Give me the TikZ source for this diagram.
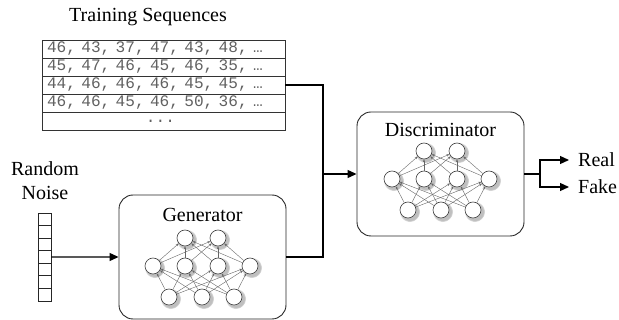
\documentclass[tikz,border=0pt]{standalone}
\usepackage{fontspec}
\setmainfont{Liberation Serif}
\setmonofont{Liberation Mono}
\newfontfamily\rowfont{Liberation Mono}
\usetikzlibrary{arrows.meta,shadows}
\begin{document}
\begin{tikzpicture}[x=1pt,y=-1pt,
  lbl/.style={font=\fontsize{20}{24}\selectfont, inner sep=0pt},
  rowbox/.style={draw=black!80, line width=0.8pt, minimum width=243pt, minimum height=18pt,
    text width=233pt, inner xsep=5pt, inner ysep=0pt, align=left,
    font=\rowfont\fontsize{16.1}{18}\selectfont, text=black!62},
  cell/.style={draw=black!85, line width=0.8pt, minimum width=13pt, minimum height=12.57pt, inner sep=0pt},
  block/.style={draw=black!85, line width=0.9pt, rounded corners=14pt, minimum width=167pt, minimum height=124pt},
  conn/.style={line width=1.2pt, black},
  arr/.style={conn, -{Triangle[length=9pt,width=8pt]}},
  neuron/.style={circle, draw=black!75, line width=0.6pt, fill=white, minimum size=16pt, inner sep=0pt,
    circular drop shadow={shadow scale=1.3, shadow xshift=1.3pt, shadow yshift=-1.3pt, opacity=0.5}},
  nnedge/.style={draw=black!60, line width=0.4pt, -{Stealth[length=3pt,width=2.4pt]}},
]
\useasboundingbox (0,0) rectangle (619,320);

\newcommand\mynetw[2]{%
  \begin{scope}[shift={#2}]
    \node[neuron] (#1t1) at (0,0) {};
    \node[neuron] (#1t2) at (33,0) {};
    \node[neuron] (#1m1) at (-32,28) {};
    \node[neuron] (#1m2) at (0,28) {};
    \node[neuron] (#1m3) at (33,28) {};
    \node[neuron] (#1m4) at (65,28) {};
    \node[neuron] (#1b1) at (-16,59) {};
    \node[neuron] (#1b2) at (17,59) {};
    \node[neuron] (#1b3) at (49,59) {};
    \foreach \bb in {1,2,3} \foreach \mm in {1,...,4} \draw[nnedge] (#1b\bb) -- (#1m\mm);
    \foreach \mm in {1,...,4} \foreach \tt in {1,2} \draw[nnedge] (#1m\mm) -- (#1t\tt);
  \end{scope}}

% Training sequences
\node[lbl] (title) at (148,17) {Training Sequences};
\node[rowbox] (r1) at (163.5,49) {46, 43, 37, 47, 43, 48, …};
\node[rowbox] (r2) at (163.5,67) {45, 47, 46, 45, 46, 35, …};
\node[rowbox] (r3) at (163.5,85) {44, 46, 46, 46, 45, 45, …};
\node[rowbox] (r4) at (163.5,103) {46, 46, 45, 46, 50, 36, …};
\node[rowbox] (r5) at (163.5,121) {\hspace*{99pt}...};

% Random noise
\node[lbl, anchor=base] (rnd) at (45,176) {Random};
\node[lbl, anchor=base] (noise) at (45,200) {Noise};
\foreach \i in {1,...,7} \node[cell] (n\i) at (44.5,{213+12.57*(\i-0.5)}) {};

% Generator
\node[block] (gen) at (202.5,257) {};
\node[lbl, anchor=base] (genl) at (202.5,222) {Generator};
\mynetw{g}{(185,238)}

% Discriminator
\node[block] (disc) at (440.5,174) {};
\node[lbl, anchor=base] (discl) at (440.5,137) {Discriminator};
\mynetw{d}{(424,151)}

% Connectors
\coordinate (j) at (323,174);
\draw[arr] (n4.east) -- (gen.west);
\draw[conn] (r3.east) -| (j);
\draw[conn] (gen.east) -| (j);
\draw[arr] (j) -- (disc.west);

% Outputs
\coordinate (s) at (540,174);
\node[lbl, anchor=west, inner xsep=9pt] (real) at (569,160) {Real};
\node[lbl, anchor=west, inner xsep=9pt] (fake) at (569,187) {Fake};
\draw[conn] (disc.east) -- (s);
\draw[arr] (s) |- (real.west);
\draw[arr] (s) |- (fake.west);
\end{tikzpicture}
\end{document}
